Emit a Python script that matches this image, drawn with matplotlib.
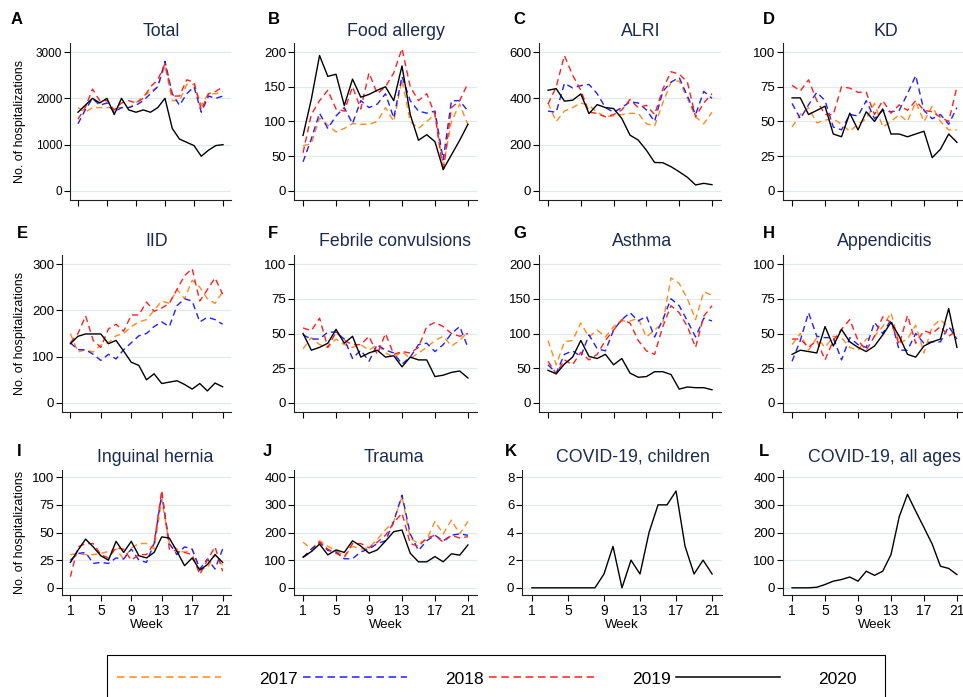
import matplotlib as mpl
mpl.use('Agg')
import matplotlib.pyplot as plt
from matplotlib.lines import Line2D
from matplotlib.patches import Rectangle

weeks = list(range(1, 22))
years = ["2017", "2018", "2019", "2020"]

# A - Total
total_2017 = [1800, 1700, 1800, 1800, 1800, 1800, 1800, 1800, 1900, 2050, 2150, 2250, 2700, 1950, 1950, 2300, 2300, 1850, 2100, 2100, 2150]
total_2018 = [1450, 1750, 2000, 1850, 1900, 1700, 1800, 1800, 1850, 1950, 2100, 2250, 2800, 2100, 1850, 2100, 2250, 1700, 2050, 2000, 2050]
total_2019 = [1550, 1800, 2200, 1950, 1950, 1750, 1900, 1950, 1900, 2000, 2250, 2400, 2750, 2050, 2050, 2400, 2350, 1750, 2100, 2150, 2250]
total_2020 = [1700, 1850, 2000, 1900, 2000, 1650, 2000, 1750, 1700, 1750, 1700, 1800, 2000, 1350, 1120, 1050, 980, 750, 880, 980, 1000]

# B - Food allergy
food_2017 = [65, 68, 105, 95, 85, 90, 97, 96, 96, 100, 120, 100, 160, 100, 90, 100, 110, 35, 100, 125, 95]
food_2018 = [42, 75, 112, 90, 108, 120, 97, 130, 120, 125, 140, 105, 165, 130, 115, 112, 115, 45, 130, 130, 115]
food_2019 = [55, 110, 130, 145, 118, 115, 150, 118, 170, 140, 150, 170, 205, 150, 130, 140, 110, 28, 120, 130, 155]
food_2020 = [80, 132, 195, 165, 168, 123, 161, 135, 139, 145, 150, 130, 180, 110, 73, 81, 71, 31, 52, 73, 96]

# C - ALRI
alri_2017 = [380, 300, 345, 360, 380, 370, 340, 320, 325, 330, 335, 335, 290, 280, 380, 470, 475, 400, 320, 290, 340]
alri_2018 = [345, 340, 465, 445, 455, 460, 420, 360, 340, 360, 385, 380, 350, 300, 430, 470, 490, 410, 330, 430, 400]
alri_2019 = [375, 450, 585, 500, 435, 340, 335, 320, 330, 350, 395, 360, 370, 330, 440, 515, 505, 470, 320, 380, 420]
alri_2020 = [435, 442, 388, 392, 419, 334, 373, 360, 356, 313, 241, 220, 176, 123, 122, 105, 83, 59, 26, 33, 27]

# D - KD
kd_2017 = [46, 55, 60, 49, 51, 52, 48, 43, 48, 52, 63, 46, 50, 55, 50, 64, 50, 61, 50, 44, 44]
kd_2018 = [63, 52, 62, 71, 65, 46, 44, 55, 54, 65, 52, 58, 57, 58, 70, 83, 58, 52, 55, 48, 60]
kd_2019 = [76, 72, 80, 65, 55, 55, 75, 74, 71, 71, 55, 65, 56, 62, 58, 65, 58, 57, 53, 50, 75]
kd_2020 = [67, 67, 55, 58, 61, 41, 39, 56, 44, 57, 50, 59, 41, 41, 39, 41, 43, 24, 30, 41, 35]

# E - IID
iid_2017 = [150, 110, 115, 110, 125, 130, 145, 150, 165, 175, 180, 200, 220, 215, 245, 225, 265, 250, 225, 215, 240]
iid_2018 = [130, 115, 115, 105, 92, 105, 95, 115, 130, 145, 150, 165, 175, 165, 210, 225, 220, 175, 185, 180, 170]
iid_2019 = [130, 150, 188, 135, 120, 160, 170, 155, 190, 190, 218, 198, 205, 215, 245, 275, 290, 220, 245, 270, 235]
iid_2020 = [128, 144, 149, 149, 149, 128, 135, 112, 88, 81, 50, 63, 42, 45, 48, 40, 30, 42, 26, 43, 35]

# F - Febrile convulsions
febr_2017 = [39, 47, 42, 40, 46, 42, 40, 42, 38, 42, 36, 33, 37, 32, 36, 40, 45, 48, 41, 45, 51]
febr_2018 = [49, 46, 46, 51, 51, 46, 32, 38, 30, 42, 38, 36, 28, 33, 42, 43, 37, 42, 50, 55, 40]
febr_2019 = [54, 52, 61, 40, 51, 45, 42, 42, 48, 35, 50, 35, 37, 36, 40, 55, 58, 55, 50, 48, 50]
febr_2020 = [50, 38, 40, 43, 53, 43, 48, 33, 36, 38, 33, 34, 26, 33, 31, 31, 19, 20, 22, 23, 18]

# G - Asthma
asth_2017 = [90, 55, 88, 90, 115, 95, 105, 95, 110, 118, 118, 122, 95, 105, 115, 180, 172, 150, 120, 160, 155]
asth_2018 = [55, 43, 70, 75, 67, 98, 78, 75, 105, 120, 130, 118, 125, 95, 120, 150, 140, 118, 95, 122, 118]
asth_2019 = [60, 42, 62, 55, 73, 62, 70, 90, 105, 120, 115, 90, 75, 70, 110, 140, 130, 110, 80, 125, 140]
asth_2020 = [47, 42, 56, 66, 90, 67, 64, 70, 55, 64, 43, 37, 38, 45, 45, 41, 20, 23, 22, 22, 19]

# H - Appendicitis
appe_2017 = [42, 50, 38, 47, 40, 48, 47, 40, 38, 46, 48, 55, 65, 43, 46, 56, 36, 55, 60, 54, 52]
appe_2018 = [30, 45, 65, 48, 47, 47, 31, 47, 42, 40, 58, 50, 60, 38, 38, 50, 43, 44, 44, 55, 46]
appe_2019 = [46, 46, 40, 45, 31, 45, 53, 60, 45, 38, 48, 62, 58, 42, 63, 43, 52, 50, 55, 48, 52]
appe_2020 = [35, 38, 37, 36, 55, 41, 53, 44, 40, 37, 41, 49, 58, 48, 35, 33, 41, 44, 46, 68, 40]

# I - Inguinal hernia
hern_2017 = [30, 31, 30, 30, 31, 33, 35, 26, 36, 40, 40, 35, 80, 40, 35, 32, 35, 17, 18, 30, 20]
hern_2018 = [25, 31, 32, 22, 23, 22, 27, 26, 35, 25, 23, 40, 85, 40, 30, 37, 35, 17, 26, 17, 35]
hern_2019 = [10, 37, 40, 40, 30, 27, 36, 35, 25, 30, 30, 40, 88, 35, 33, 32, 30, 12, 25, 37, 15]
hern_2020 = [23, 34, 44, 37, 29, 25, 42, 32, 42, 29, 27, 32, 46, 45, 33, 20, 27, 16, 21, 30, 23]

# J - Trauma
trau_2017 = [165, 140, 170, 150, 135, 115, 150, 140, 145, 175, 210, 240, 330, 180, 160, 175, 240, 195, 245, 195, 240]
trau_2018 = [110, 140, 165, 135, 130, 105, 105, 130, 140, 160, 170, 240, 335, 195, 135, 170, 190, 170, 190, 195, 190]
trau_2019 = [110, 130, 165, 140, 125, 110, 160, 160, 145, 165, 190, 235, 270, 160, 150, 180, 190, 165, 190, 180, 185]
trau_2020 = [111, 131, 158, 119, 137, 128, 170, 151, 125, 137, 169, 203, 209, 125, 94, 94, 113, 94, 123, 118, 155]

# K, L - COVID-19 (2020 only)
covid_children = [0, 0, 0, 0, 0, 0, 0, 0, 1, 3, 0, 2, 1, 4, 6, 6, 7, 3, 1, 2, 1]
covid_all = [0, 0, 0, 2, 12, 24, 30, 39, 24, 60, 45, 60, 120, 257, 338, 277, 218, 158, 78, 70, 48]

titles = ["Total", "Food allergy", "ALRI", "KD", "IID", "Febrile convulsions",
          "Asthma", "Appendicitis", "Inguinal hernia", "Trauma",
          "COVID-19, children", "COVID-19, all ages"]
letters = list("ABCDEFGHIJKL")
ytops = [3000, 200, 600, 100, 300, 100, 200, 100, 100, 400, 8, 400]
ysteps = [1000, 50, 200, 25, 100, 25, 50, 25, 25, 100, 2, 100]

series = [
    [total_2017, total_2018, total_2019, total_2020],
    [food_2017, food_2018, food_2019, food_2020],
    [alri_2017, alri_2018, alri_2019, alri_2020],
    [kd_2017, kd_2018, kd_2019, kd_2020],
    [iid_2017, iid_2018, iid_2019, iid_2020],
    [febr_2017, febr_2018, febr_2019, febr_2020],
    [asth_2017, asth_2018, asth_2019, asth_2020],
    [appe_2017, appe_2018, appe_2019, appe_2020],
    [hern_2017, hern_2018, hern_2019, hern_2020],
    [trau_2017, trau_2018, trau_2019, trau_2020],
    [None, None, None, covid_children],
    [None, None, None, covid_all],
]

colors = ["#ff8a1e", "#1f1fff", "#ff1f1f", "black"]
DASH = (4.5, 3)
GRID = "#e1e9ec"
TITLE_C = "#1c2a50"

plt.rcParams['font.family'] = ['Liberation Sans', 'DejaVu Sans']

W, H = 963, 697
fig = plt.figure(figsize=(W / 100, H / 100), dpi=100)


def px_rect(l, r, t, b):
    return [l / W, 1 - b / H, (r - l) / W, (b - t) / H]


# pixel boxes (left, right) per panel and (top, bottom) per row
cols = [(70, 231), (294, 477), (539, 721), (783, 966),
        (62, 231), (294, 477), (539, 721), (783, 966),
        (62, 231), (294, 477), (522, 722), (783, 966)]
rows = [(43, 200), (255, 412), (470, 595)]
title_x = [161, 396, 641, 886, 157, 395, 642, 885, 155, 394, 633, 884]
title_y = [30, 241, 456]
letter_x = [11, 268, 513, 763, 17, 268, 513, 763, 17, 263, 505, 759]
letter_y = [19, 234, 452]

for i in range(12):
    r = i // 4
    l, rr = cols[i]
    t, b = rows[r]
    ax = fig.add_axes(px_rect(l, rr, t, b))
    top = ytops[i]
    ax.set_xlim(-0.1, 22.1)
    ax.set_ylim(-0.065 * top, 1.065 * top)
    ticks = [k * ysteps[i] for k in range(int(top / ysteps[i]) + 1)]
    ax.set_yticks(ticks)
    ax.set_xticks([1, 5, 9, 13, 17, 21])
    for y in ticks:
        ax.axhline(y, color=GRID, lw=0.9, zorder=0)
    for j, data in enumerate(series[i]):
        if data is None:
            continue
        if j < 3:
            ax.plot(weeks, data, color=colors[j], lw=1.0, dashes=DASH)
        else:
            ax.plot(weeks, data, color=colors[j], lw=1.0)
    for s in ['top', 'right']:
        ax.spines[s].set_visible(False)
    for s in ['left', 'bottom']:
        ax.spines[s].set_color('#222222')
        ax.spines[s].set_linewidth(0.8)
    ax.tick_params(direction='out', length=4, width=0.8, pad=1.5,
                   labelsize=8.5 if i == 0 else 9.5, colors='black')
    if r < 2:
        ax.set_xticklabels([])
    else:
        ax.tick_params(axis='x', labelsize=10, pad=2.5)
        ax.set_xlabel("Week", fontsize=9.5, labelpad=1)
    fig.text(title_x[i] / W, 1 - (title_y[r] + 1) / H, titles[i],
             ha='center', va='center', fontsize=12.8, color=TITLE_C)
    fig.text(letter_x[i] / W, 1 - letter_y[r] / H, letters[i], ha='left',
             va='center', fontsize=12, fontweight='bold')
    if i % 4 == 0:
        fig.text(20 / W, 1 - (t + b) / 2 / H, "No. of hospitalizations",
                 rotation=90, ha='center', va='center', fontsize=9)

# legend: box drawn separately (Stata-like, open at the bottom edge)
handles = []
for j in range(4):
    if j < 3:
        handles.append(Line2D([], [], color=colors[j], lw=1.1, dashes=(5, 3)))
    else:
        handles.append(Line2D([], [], color=colors[j], lw=1.1))
fig.legend(handles, years, loc='center left', ncol=4,
           bbox_to_anchor=(117 / W, 1 - 679 / H), borderaxespad=0,
           borderpad=0, fontsize=12.5, handlelength=6.0, handletextpad=2.2,
           columnspacing=0.3, frameon=False)
fig.patches.append(Rectangle((107 / W, -0.05), 778 / W, 0.05 + 1 - 655 / H,
                             transform=fig.transFigure, fill=False,
                             edgecolor='black', linewidth=0.8))

fig.savefig('out.png', dpi=100)
